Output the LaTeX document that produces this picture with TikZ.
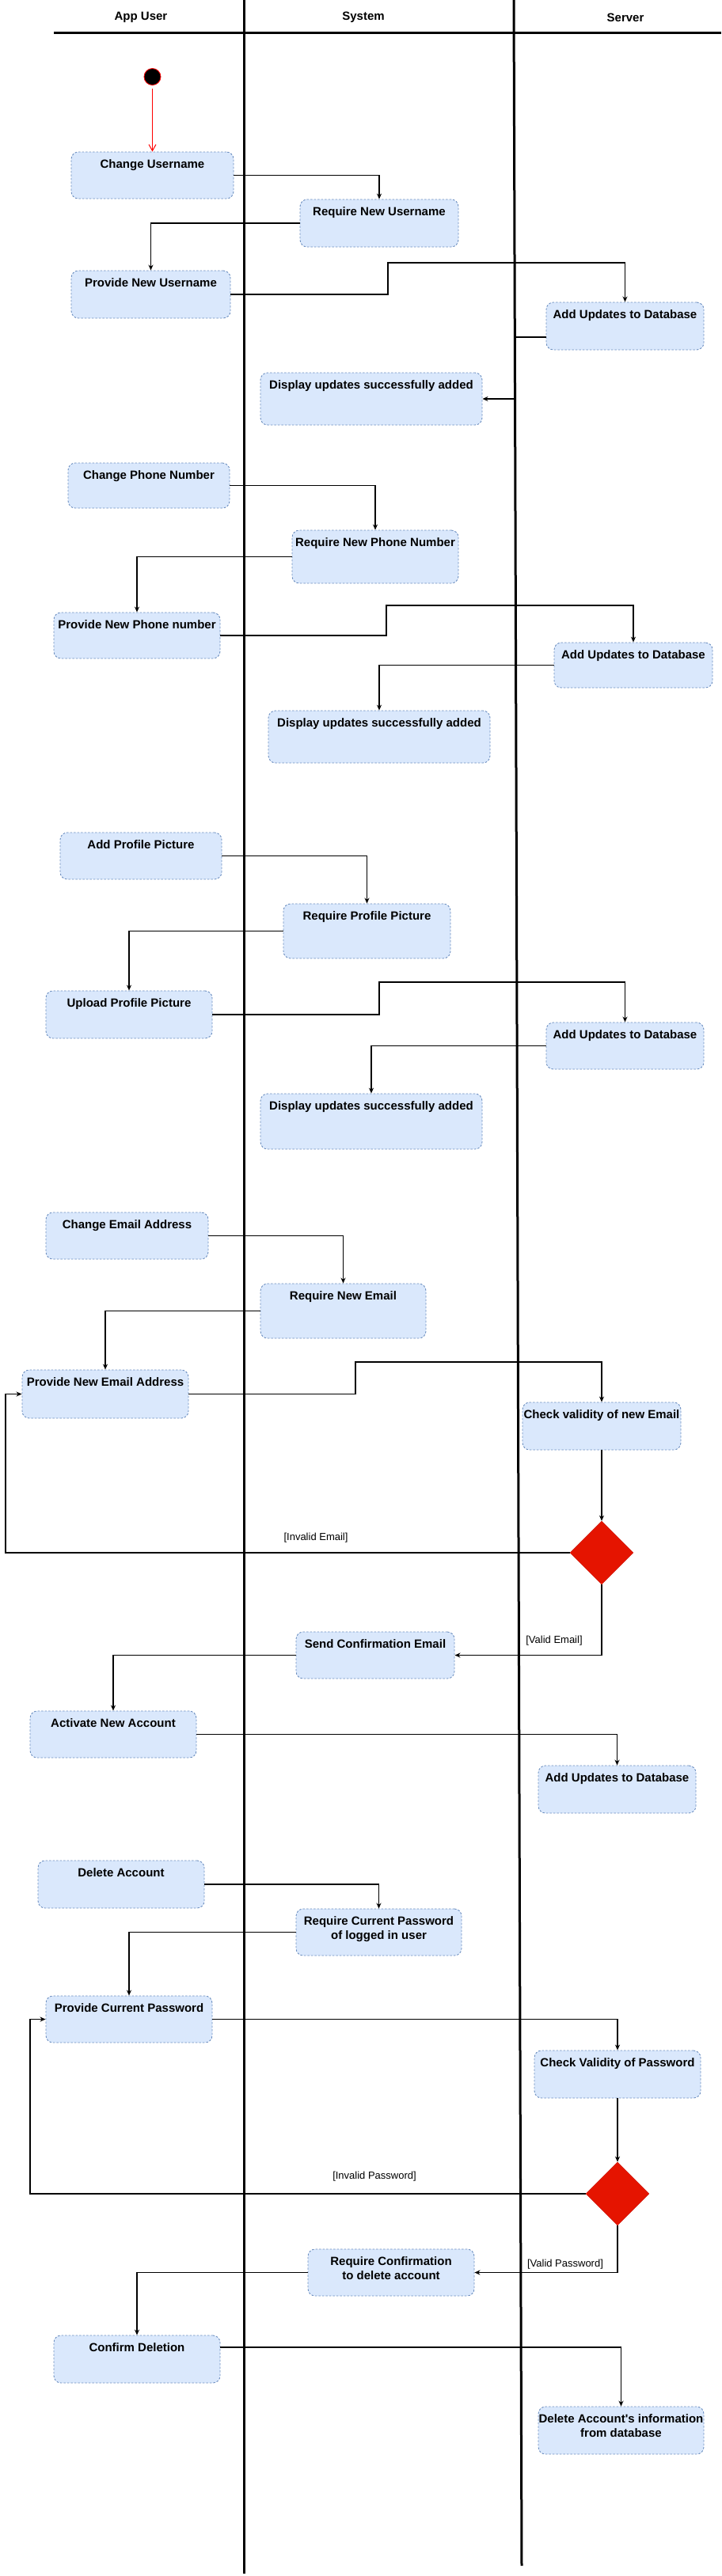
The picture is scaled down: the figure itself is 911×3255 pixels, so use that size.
\documentclass[tikz,border=0pt]{standalone}
\usepackage{fontspec}
\setmainfont{Liberation Sans}
\usetikzlibrary{arrows.meta,shapes.geometric}
\definecolor{actfill}{HTML}{DAE8FC}
\definecolor{actline}{HTML}{6C8EBF}
\definecolor{decfill}{HTML}{E51400}
\definecolor{decline}{HTML}{C81100}

\begin{document}
\begin{tikzpicture}
[x=1pt,y=-1pt,
 lane/.style={draw=black,line width=3pt},
 act/.style={draw=actline,fill=actfill,line width=0.9pt,dash pattern=on 2.5pt off 2pt,
   rounded corners=9pt,inner sep=0pt,label={[acttext]north:{#1}}},
 acttext/.style={anchor=north,yshift=-7.5pt,inner sep=2pt,align=center,
   font=\fontsize{15}{18}\selectfont\bfseries},
 dec/.style={diamond,draw=decline,fill=decfill,minimum width=80pt,minimum height=80pt,inner sep=0pt},
 flow/.style={draw=black,line width=1.2pt,arrows={-Stealth[length=7pt,width=6pt]}},
 guard/.style={font=\fontsize{13}{15}\selectfont,inner sep=1pt},
 head/.style={font=\fontsize{15}{18}\selectfont\bfseries}]
\useasboundingbox (0,0) rectangle (911,3255);

\foreach \name/\x/\t in {hu/178/App User,hs/459/System,hv/790/Server}
  \node[head] (\name) at (\x,22) {\t};
\draw[lane] (68,41) -- (911,41);
\draw[lane] (308,0) -- (308,3252);
\draw[lane] (649,0) -- (659,3242);

\node[circle,fill=black,draw=red,line width=0.8pt,minimum size=21pt,inner sep=0pt] (init) at (192.5,97) {};

\node[act={Change Username},minimum width=205pt,minimum height=59pt] (cu) at (192.5,221.5) {};
\node[act={Require New Username},minimum width=200pt,minimum height=60pt] (rnu) at (479,282) {};
\node[act={Provide New Username},minimum width=201pt,minimum height=60pt] (pnu) at (190.5,372) {};
\node[act={Add Updates to Database},minimum width=199pt,minimum height=60pt] (aud1) at (789.5,412) {};
\node[act={Display updates successfully added},minimum width=280pt,minimum height=66pt] (dus1) at (469,504) {};

\node[act={Change Phone Number},minimum width=204pt,minimum height=57pt] (cpn) at (188,613.5) {};
\node[act={Require New Phone Number},minimum width=210pt,minimum height=67pt] (rnp) at (474,703.5) {};
\node[act={Provide New Phone number},minimum width=210pt,minimum height=58pt] (pnp) at (173,803) {};
\node[act={Add Updates to Database},minimum width=200pt,minimum height=57pt] (aud2) at (800,840.5) {};
\node[act={Display updates successfully added},minimum width=280pt,minimum height=66pt] (dus2) at (479,931) {};

\node[act={Add Profile Picture},minimum width=204pt,minimum height=59pt] (app) at (178,1081.5) {};
\node[act={Require Profile Picture},minimum width=211pt,minimum height=69pt] (rpp) at (463.5,1176.5) {};
\node[act={Upload Profile Picture},minimum width=210pt,minimum height=60pt] (upp) at (163,1282) {};
\node[act={Add Updates to Database},minimum width=199pt,minimum height=59pt] (aud3) at (789.5,1321.5) {};
\node[act={Display updates successfully added},minimum width=280pt,minimum height=70pt] (dus3) at (469,1417) {};

\node[act={Change Email Address},minimum width=205pt,minimum height=59pt] (cea) at (160.5,1561.5) {};
\node[act={Require New Email},minimum width=209pt,minimum height=69pt] (rne) at (433.5,1656.5) {};
\node[act={Provide New Email Address},minimum width=210pt,minimum height=61pt] (pnea) at (133,1761.5) {};
\node[act={Check validity of new Email},minimum width=200pt,minimum height=60pt] (cvne) at (760,1802) {};
\node[dec] (dia1) at (760,1962) {};
\node[act={Send Confirmation Email},minimum width=200pt,minimum height=59pt] (sce) at (474,2091.5) {};
\node[act={Activate New Account},minimum width=210pt,minimum height=59pt] (ana) at (143,2191.5) {};
\node[act={Add Updates to Database},minimum width=199pt,minimum height=60pt] (aud4) at (779.5,2261) {};

\node[act={Delete Account},minimum width=210pt,minimum height=60pt] (da) at (153,2381) {};
\node[act={Require Current Password\\of logged in user},minimum width=209pt,minimum height=59pt] (rcp) at (478.5,2441.5) {};
\node[act={Provide Current Password},minimum width=210pt,minimum height=59pt] (pcp) at (163,2551.5) {};
\node[act={Check Validity of Password},minimum width=210pt,minimum height=60pt] (cvp) at (780,2621) {};
\node[dec] (dia2) at (780,2772) {};
\node[act={Require Confirmation\\to delete account},minimum width=210pt,minimum height=59pt] (rcd) at (494,2871.5) {};
\node[act={Confirm Deletion},minimum width=210pt,minimum height=60pt] (cd) at (173,2981) {};
\node[act={Delete Account\textquotesingle s information\\from database},minimum width=209pt,minimum height=60pt] (dai) at (784.5,3071) {};

\draw[red,line width=1pt,arrows={-Straight Barb[length=8pt,width=9pt]},shorten <=4pt] (init) -- (cu);

\draw[flow] (cu.east) -| (rnu.north);
\draw[flow] (rnu.west) -| (pnu.north);
\draw[flow] (pnu.east) -| (490,332) -| (aud1.north);
\draw[flow] ([yshift=-14pt]aud1.west) -- (650,426) |- (dus1.east);

\draw[flow] (cpn.east) -| (rnp.north);
\draw[flow] (rnp.west) -| (pnp.north);
\draw[flow] (pnp.east) -| (488,765) -| (aud2.north);
\draw[flow] (aud2.west) -| (dus2.north);

\draw[flow] (app.east) -| (rpp.north);
\draw[flow] (rpp.west) -| (upp.north);
\draw[flow] (upp.east) -| (479,1241) -| (aud3.north);
\draw[flow] (aud3.west) -| (dus3.north);

\draw[flow] (cea.east) -| (rne.north);
\draw[flow] (rne.west) -| (pnea.north);
\draw[flow] (pnea.east) -| (449,1721) -| (cvne.north);
\draw[flow] (cvne) -- (dia1);
\draw[flow] (dia1.west) -| (7,1761.5) -- (pnea.west);
\draw[flow] (dia1.south) |- (sce.east);
\draw[flow] (sce.west) -| (ana.north);
\draw[flow] (ana.east) -| (aud4.north);

\draw[flow] (da.east) -| (rcp.north);
\draw[flow] (rcp.west) -| (pcp.north);
\draw[flow] (pcp.east) -| (cvp.north);
\draw[flow] (cvp) -- (dia2);
\draw[flow] (dia2.west) -| (38,2551.5) -- (pcp.west);
\draw[flow] (dia2.south) |- (rcd.east);
\draw[flow] (rcd.west) -| (cd.north);
\draw[flow] ([yshift=15pt]cd.east) -| (dai.north);

\node[guard] (g1) at (399,1943) {[Invalid Email]};
\node[guard] (g2) at (700,2073) {[Valid Email]};
\node[guard] (g3) at (473,2750) {[Invalid Password]};
\node[guard] (g4) at (714,2861) {[Valid Password]};

\end{tikzpicture}
\end{document}
